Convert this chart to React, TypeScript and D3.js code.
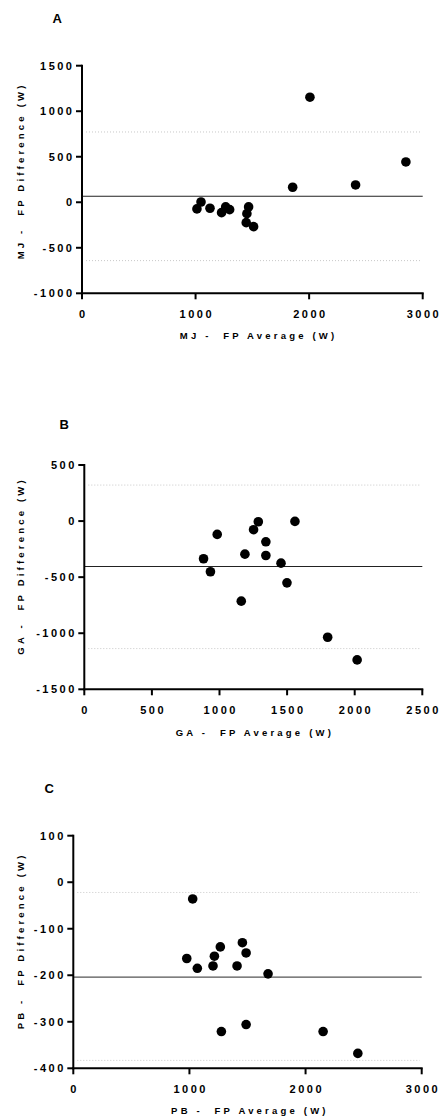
import React from "react";
import * as d3 from "d3";

// ---------- data ----------
const mjAverage = [2007, 2852, 2409, 1855, 1048, 1012, 1127, 1229, 1265, 1300, 1467, 1452, 1446, 1511];
const mjDifference = [1154, 443, 190, 165, 3, -73, -66, -114, -51, -81, -51, -125, -224, -268];
const mjBias = 66;
const mjLimits = [772, -641];
const mjXTicks = [0, 1000, 2000, 3000];
const mjYTicks = [-1000, -500, 0, 500, 1000, 1500];

const gaAverage = [983, 1252, 1287, 1558, 1343, 882, 933, 1188, 1343, 1455, 1499, 1161, 1800, 2018];
const gaDifference = [-119, -77, -6, -3, -185, -336, -452, -295, -307, -375, -551, -714, -1036, -1238];
const gaBias = -405;
const gaLimits = [321, -1137];
const gaXTicks = [0, 500, 1000, 1500, 2000, 2500];
const gaYTicks = [-1500, -1000, -500, 0, 500];

const pbAverage = [1028, 977, 1068, 1215, 1266, 1203, 1456, 1488, 1410, 1677, 1275, 1488, 2151, 2450];
const pbDifference = [-36, -164, -185, -159, -139, -180, -130, -152, -180, -197, -321, -306, -321, -368];
const pbBias = -204;
const pbLimits = [-22, -383];
const pbXTicks = [0, 1000, 2000, 3000];
const pbYTicks = [-400, -300, -200, -100, 0, 100];

const panelLetters = ["A", "B", "C"];
const xTitles = ["MJ -  FP Average (W)", "GA -  FP Average (W)", "PB -  FP Average (W)"];
const yTitles = ["MJ -  FP Difference (W)", "GA -  FP Difference (W)", "PB -  FP Difference (W)"];

// ---------- layout ----------
type Panel = {
  avg: number[];
  diff: number[];
  bias: number;
  limits: number[];
  xTicks: number[];
  yTicks: number[];
  letter: string;
  xTitle: string;
  yTitle: string;
  x0: number;
  x1: number;
  yTop: number;
  yBot: number;
  biasColor: string;
  letterPos: [number, number];
  xTitlePos: [number, number];
  yTitlePos: [number, number];
};

const panels: Panel[] = [
  {
    avg: mjAverage, diff: mjDifference, bias: mjBias, limits: mjLimits,
    xTicks: mjXTicks, yTicks: mjYTicks, letter: panelLetters[0],
    xTitle: xTitles[0], yTitle: yTitles[0],
    x0: 82, x1: 422.7, yTop: 65.7, yBot: 293.3, biasColor: "#222",
    letterPos: [57.3, 23.3], xTitlePos: [257, 338.5], yTitlePos: [23.5, 172.5],
  },
  {
    avg: gaAverage, diff: gaDifference, bias: gaBias, limits: gaLimits,
    xTicks: gaXTicks, yTicks: gaYTicks, letter: panelLetters[1],
    xTitle: xTitles[1], yTitle: yTitles[1],
    x0: 84.3, x1: 422.3, yTop: 465, yBot: 689.3, biasColor: "#222",
    letterPos: [64.3, 429.3], xTitlePos: [253.3, 735.5], yTitlePos: [23.5, 567.5],
  },
  {
    avg: pbAverage, diff: pbDifference, bias: pbBias, limits: pbLimits,
    xTicks: pbXTicks, yTicks: pbYTicks, letter: panelLetters[2],
    xTitle: xTitles[2], yTitle: yTitles[2],
    x0: 73.3, x1: 421.7, yTop: 835.7, yBot: 1068.3, biasColor: "#555",
    letterPos: [49.3, 793.3], xTitlePos: [248.3, 1114], yTitlePos: [23.5, 942.5],
  },
];

const FONT = "'Liberation Sans', Arial, sans-serif";
const TICK_LS = 2.5;
const TITLE_LS = 3.2;

function PanelChart({ p }: { p: Panel }) {
  const x = d3.scaleLinear().domain([p.xTicks[0], p.xTicks[p.xTicks.length - 1]]).range([p.x0, p.x1]);
  const y = d3.scaleLinear().domain([p.yTicks[0], p.yTicks[p.yTicks.length - 1]]).range([p.yBot, p.yTop]);
  return (
    <g>
      <text x={p.letterPos[0]} y={p.letterPos[1]} textAnchor="middle" fontFamily={FONT} fontWeight="bold" fontSize={13}>
        {p.letter}
      </text>
      {p.limits.map((l, i) => (
        <line key={"l" + i} x1={p.x0 + 4} x2={p.x1 - 2} y1={y(l)} y2={y(l)} stroke="#c8c8c8" strokeWidth={1} strokeDasharray="1,2" />
      ))}
      <line x1={p.x0} x2={p.x1} y1={y(p.bias)} y2={y(p.bias)} stroke={p.biasColor} strokeWidth={1.2} />
      {p.avg.map((a, i) => (
        <circle key={"c" + i} cx={x(a)} cy={y(p.diff[i])} r={4.8} fill="#000" />
      ))}
      <line x1={p.x0} x2={p.x0} y1={p.yTop - 1} y2={p.yBot + 1} stroke="#000" strokeWidth={2} />
      <line x1={p.x0 - 1} x2={p.x1 + 1} y1={p.yBot} y2={p.yBot} stroke="#000" strokeWidth={2} />
      {p.yTicks.map((t) => (
        <g key={"yt" + t}>
          <line x1={p.x0 - 6} x2={p.x0} y1={y(t)} y2={y(t)} stroke="#000" strokeWidth={2} />
          <text x={p.x0 - 10 + TICK_LS} y={y(t) + 4} textAnchor="end" fontFamily={FONT} fontWeight="bold" fontSize={11} letterSpacing={TICK_LS}>
            {t}
          </text>
        </g>
      ))}
      {p.xTicks.map((t) => (
        <g key={"xt" + t}>
          <line x1={x(t)} x2={x(t)} y1={p.yBot} y2={p.yBot + 6} stroke="#000" strokeWidth={2} />
          <text x={x(t) + TICK_LS / 2} y={p.yBot + 24.5} textAnchor="middle" fontFamily={FONT} fontWeight="bold" fontSize={11} letterSpacing={TICK_LS}>
            {t}
          </text>
        </g>
      ))}
      <text x={p.xTitlePos[0] + TITLE_LS / 2} y={p.xTitlePos[1]} textAnchor="middle" fontFamily={FONT} fontWeight="bold" fontSize={9.5} letterSpacing={TITLE_LS} style={{ whiteSpace: "pre" }}>
        {p.xTitle}
      </text>
      <text
        transform={`translate(${p.yTitlePos[0]},${p.yTitlePos[1] - TITLE_LS / 2}) rotate(-90)`}
        textAnchor="middle" fontFamily={FONT} fontWeight="bold" fontSize={9.5} letterSpacing={TITLE_LS} style={{ whiteSpace: "pre" }}
      >
        {p.yTitle}
      </text>
    </g>
  );
}

export default function App() {
  return (
    <svg width={440} height={1118} style={{ position: "absolute", left: 0, top: 0, background: "#fff" }}>
      <rect x={0} y={0} width={440} height={1118} fill="#fff" />
      {panels.map((p, i) => (
        <PanelChart key={i} p={p} />
      ))}
    </svg>
  );
}
